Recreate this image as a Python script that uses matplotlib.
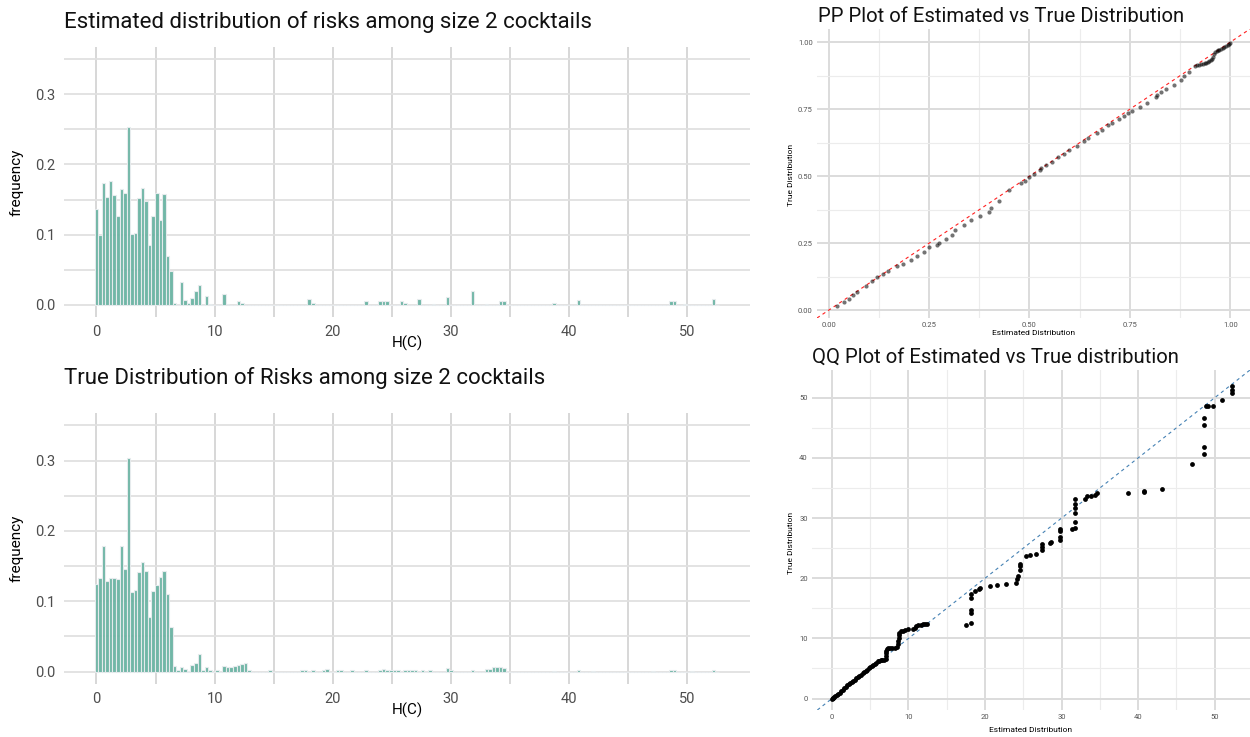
import matplotlib
matplotlib.use("Agg")
import matplotlib.pyplot as plt
import numpy as np

plt.rcParams["font.family"] = ["Roboto", "DejaVu Sans"]

W, H = 1250, 737
BINWIDTH = 0.3
N_BINS = 176

# histogram bins: index k -> centre k * BINWIDTH
est_bins = [0, 1, 2, 3, 4, 5, 6, 7, 8, 9, 10, 11, 12, 13, 14, 15, 16, 17, 18, 19, 20, 21, 22,
            24, 25, 26, 27, 28, 29, 31, 32, 36, 37, 40, 41,
            60, 61, 76, 80, 81, 82, 86, 87, 91, 95, 99, 106, 110, 114, 115, 129, 136, 162, 163, 166, 174]
est_freq = [0.137, 0.099, 0.174, 0.154, 0.176, 0.156, 0.126, 0.165, 0.159, 0.253, 0.101, 0.102,
            0.152, 0.166, 0.148, 0.085, 0.127, 0.160, 0.121, 0.158, 0.069, 0.048, 0.002,
            0.032, 0.0065, 0.002, 0.010, 0.019, 0.028, 0.012, 0.001, 0.0146, 0.001, 0.006, 0.003,
            0.0075, 0.003, 0.0047, 0.006, 0.006, 0.006, 0.005, 0.002, 0.0085, 0.001, 0.011, 0.019,
            0.001, 0.005, 0.005, 0.003, 0.0066, 0.005, 0.005, 0.001, 0.0085]

true_bins = [0, 1, 2, 3, 4, 5, 6, 7, 8, 9, 10, 11, 12, 13, 14, 15, 16, 17, 18, 19, 20, 21, 22,
             23, 24, 25, 26, 27, 28, 29, 30, 31, 32, 34, 36, 37, 38, 39, 40, 41, 42, 43,
             49, 58, 59, 61, 64, 65, 68, 69, 72, 76, 80, 81, 82, 83, 84, 85, 87, 88, 89, 90, 92, 94,
             99, 100, 106, 110, 111, 112, 113, 114, 115, 129, 136, 140, 157, 162, 163, 168, 174]
true_freq = [0.124, 0.133, 0.178, 0.129, 0.133, 0.133, 0.131, 0.179, 0.146, 0.303, 0.113, 0.116,
             0.141, 0.156, 0.143, 0.077, 0.115, 0.123, 0.134, 0.143, 0.110, 0.063, 0.008,
             0.003, 0.007, 0.004, 0.001, 0.010, 0.0125, 0.0246, 0.002, 0.007, 0.002, 0.002,
             0.008, 0.006, 0.006, 0.008, 0.010, 0.011, 0.013, 0.002,
             0.002, 0.002, 0.002, 0.003, 0.002, 0.004, 0.002, 0.002, 0.002, 0.002, 0.003, 0.004,
             0.003, 0.003, 0.002, 0.002, 0.002, 0.003, 0.002, 0.002, 0.002, 0.002,
             0.005, 0.002, 0.002, 0.004, 0.004, 0.006, 0.007, 0.007, 0.005, 0.001, 0.002, 0.001,
             0.001, 0.002, 0.002, 0.001, 0.003]

# PP plot
pp_est = [0.022, 0.039, 0.050, 0.060, 0.070, 0.093, 0.107, 0.121, 0.136, 0.148, 0.169, 0.186,
          0.204, 0.221, 0.237, 0.251, 0.269, 0.275, 0.291, 0.306, 0.314, 0.338, 0.355, 0.378,
          0.398, 0.403, 0.423, 0.450, 0.479, 0.488, 0.498, 0.512, 0.526, 0.529, 0.541, 0.557,
          0.572, 0.587, 0.599, 0.618, 0.636, 0.646, 0.667, 0.681, 0.696, 0.706, 0.723, 0.736,
          0.746, 0.756, 0.776, 0.793, 0.816, 0.818, 0.828, 0.839, 0.861, 0.878, 0.884, 0.898,
          0.913, 0.916, 0.923, 0.927, 0.931, 0.936, 0.940, 0.944, 0.948, 0.951, 0.955, 0.957,
          0.960, 0.963, 0.966, 0.969, 0.973, 0.977, 0.981, 0.985, 0.989, 0.993, 0.997, 1.000]
pp_true = [0.015, 0.030, 0.043, 0.058, 0.068, 0.089, 0.108, 0.124, 0.135, 0.145, 0.164, 0.173,
           0.188, 0.203, 0.217, 0.234, 0.244, 0.250, 0.265, 0.281, 0.300, 0.318, 0.337, 0.352,
           0.368, 0.380, 0.408, 0.449, 0.473, 0.483, 0.496, 0.508, 0.523, 0.529, 0.541, 0.554,
           0.570, 0.584, 0.597, 0.612, 0.632, 0.643, 0.662, 0.674, 0.690, 0.699, 0.714, 0.724,
           0.736, 0.743, 0.758, 0.772, 0.796, 0.802, 0.813, 0.825, 0.841, 0.857, 0.875, 0.890,
           0.911, 0.913, 0.916, 0.918, 0.919, 0.921, 0.924, 0.927, 0.931, 0.933, 0.936, 0.945,
           0.957, 0.963, 0.966, 0.969, 0.972, 0.975, 0.978, 0.981, 0.985, 0.990, 0.994, 0.998]

# QQ plot
qq_est = [0.0, 0.1, 0.2, 0.3, 0.45, 0.6, 0.8, 1.0, 1.2, 1.4, 1.6, 1.8, 2.0, 2.2, 2.4, 2.6, 2.8,
          3.0, 3.2, 3.4, 3.6, 3.8, 4.0, 4.2, 4.4, 4.6, 4.8, 5.0, 5.2, 5.4, 5.6, 5.8, 6.0, 6.2,
          6.4, 6.6, 6.8, 7.0, 7.05, 7.1, 7.1, 7.15, 7.3, 7.6, 7.9, 8.2, 8.5, 8.6, 8.65, 8.7, 8.7,
          8.75, 9.0, 9.3, 9.6, 9.9, 10.6, 10.8, 11.0, 11.3, 11.6, 11.9, 12.2, 12.4,
          17.5, 18.1, 18.1, 18.2, 18.2, 18.2, 18.75, 19.2, 19.4, 20.7, 21.6, 22.7,
          24.0, 24.2, 24.3, 24.5, 24.6, 24.6, 25.3, 25.9, 26.6, 27.4, 27.4, 27.4, 28.5, 28.6,
          29.8, 29.8, 29.8, 29.8, 31.3, 31.7, 31.7, 31.7, 31.7, 31.7, 31.7,
          33.0, 33.3, 33.9, 34.4, 34.6, 38.7, 40.8, 40.8, 43.1, 47.0,
          48.6, 48.6, 48.6, 48.6, 48.9, 49.1, 49.8, 50.9, 52.2, 52.2, 52.2]
qq_true = [0.0, 0.05, 0.15, 0.25, 0.4, 0.55, 0.8, 1.0, 1.25, 1.5, 1.75, 2.0, 2.2, 2.4, 2.6, 2.8,
           2.95, 3.15, 3.35, 3.55, 3.75, 3.95, 4.2, 4.4, 4.6, 4.8, 5.0, 5.2, 5.4, 5.6, 5.75, 5.95,
           6.2, 6.3, 6.35, 6.4, 6.45, 6.6, 7.0, 7.5, 7.9, 8.2, 8.35, 8.4, 8.4, 8.4, 8.5, 9.0, 9.5,
           10.0, 10.5, 10.9, 11.2, 11.3, 11.4, 11.5, 11.5, 11.7, 12.0, 12.2, 12.3, 12.35, 12.4, 12.45,
           12.3, 12.6, 14.3, 14.7, 16.7, 17.3, 17.8, 18.2, 18.4, 18.65, 18.9, 19.0,
           19.2, 19.9, 20.4, 21.4, 22.0, 22.4, 23.7, 23.8, 24.1, 24.7, 25.2, 25.7, 25.8, 26.0,
           26.3, 26.9, 27.8, 28.1, 28.1, 28.3, 29.4, 30.8, 31.6, 32.4, 33.1,
           33.1, 33.7, 33.7, 33.8, 34.1, 34.2, 34.4, 34.5, 34.9, 39.0,
           40.6, 41.8, 45.4, 46.7, 48.6, 48.7, 48.7, 49.6, 50.7, 51.3, 51.9]

hist_xticks = [0, 10, 20, 30, 40, 50]
hist_yticks = [0.0, 0.1, 0.2, 0.3]
pp_ticks = [0.0, 0.25, 0.5, 0.75, 1.0]
qq_ticks = [0, 10, 20, 30, 40, 50]


def px_axes(fig, left, top, right, bottom):
    return fig.add_axes([left / W, 1 - bottom / H, (right - left) / W, (bottom - top) / H])


def clean(ax):
    for spine in ax.spines.values():
        spine.set_visible(False)
    ax.set_axisbelow(True)


def draw_hist(ax, bins, freq):
    heights = np.zeros(N_BINS)
    heights[bins] = freq
    centres = np.arange(N_BINS) * BINWIDTH
    ax.bar(centres, heights, width=BINWIDTH, color="#69b3a2", alpha=0.95,
           edgecolor="#e9ecef", linewidth=0.8)
    ax.set_xlim(-2.75, 55.3)
    ax.set_ylim(-0.0175, 0.3675)
    ax.set_xticks(hist_xticks)
    ax.set_xticks([5, 15, 25, 35, 45], minor=True)
    ax.set_yticks(hist_yticks)
    ax.set_yticks([0.05, 0.15, 0.25, 0.35], minor=True)
    ax.set_yticklabels(["0.0", "0.1", "0.2", "0.3"])
    ax.grid(True, which="both", axis="x", color="#d4d4d4", linewidth=1.3)
    ax.grid(True, which="both", axis="y", color="#e0e0e0", linewidth=1.3)
    ax.tick_params(which="both", length=0, labelsize=10.5, labelcolor="#4d4d4d", pad=6)
    clean(ax)


fig = plt.figure(figsize=(W / 100, H / 100), dpi=100)

ax1 = px_axes(fig, 64, 47, 750, 317)
draw_hist(ax1, est_bins, est_freq)
ax2 = px_axes(fig, 64, 413, 750, 684)
draw_hist(ax2, true_bins, true_freq)

fig.text(64 / W, 1 - 28 / H, "Estimated distribution of risks among size 2 cocktails",
         fontsize=16, va="baseline", ha="left", color="#111111")
fig.text(64 / W, 1 - 384 / H, "True Distribution of Risks among size 2 cocktails",
         fontsize=16, va="baseline", ha="left", color="#111111")
for yc in (182, 548):
    fig.text(17 / W, 1 - yc / H, "frequency", rotation=90, fontsize=11, va="center", ha="center")
for yc in (343, 710):
    fig.text(407 / W, 1 - yc / H, "H(C)", fontsize=11, va="center", ha="center")

# PP plot
ax3 = px_axes(fig, 817, 29, 1250, 318)
ax3.axline((0, 0), slope=1, color="#ff2020", linestyle=(0, (3, 3)), linewidth=0.8, zorder=2)
ax3.scatter(pp_est, pp_true, s=9, color="black", alpha=0.55, linewidths=0, zorder=3)
ax3.set_xlim(-0.029, 1.049)
ax3.set_ylim(-0.029, 1.049)
ax3.set_xticks(pp_ticks)
ax3.set_yticks(pp_ticks)
ax3.set_xticklabels(["0.00", "0.25", "0.50", "0.75", "1.00"])
ax3.set_yticklabels(["0.00", "0.25", "0.50", "0.75", "1.00"])
ax3.set_xticks([0.125, 0.375, 0.625, 0.875], minor=True)
ax3.set_yticks([0.125, 0.375, 0.625, 0.875], minor=True)
ax3.grid(True, which="major", color="#dcdcdc", linewidth=1.4)
ax3.grid(True, which="minor", color="#ececec", linewidth=0.8)
ax3.tick_params(which="both", length=0, labelsize=5.5, labelcolor="#555555", pad=3)
clean(ax3)
fig.text(818 / W, 1 - 22 / H, "PP Plot of Estimated vs True Distribution",
         fontsize=14.6, va="baseline", ha="left", color="#111111")
fig.text(1034 / W, 1 - 333 / H, "Estimated Distribution", fontsize=6, va="center", ha="center")
fig.text(791 / W, 1 - 175 / H, "True Distribution", fontsize=6, rotation=90, va="center", ha="center")

# QQ plot
ax4 = px_axes(fig, 812, 370, 1250, 710)
ax4.axline((0, 0), slope=1, color="#4682b4", linestyle=(0, (3, 3)), linewidth=0.8, zorder=2)
ax4.scatter(qq_est, qq_true, s=12, color="black", linewidths=0, zorder=3)
ax4.set_xlim(-2.6, 54.6)
ax4.set_ylim(-1.9, 54.6)
ax4.set_xticks(qq_ticks)
ax4.set_yticks(qq_ticks)
ax4.set_xticks([5, 15, 25, 35, 45], minor=True)
ax4.set_yticks([5, 15, 25, 35, 45], minor=True)
ax4.grid(True, which="major", color="#dcdcdc", linewidth=1.4)
ax4.grid(True, which="minor", color="#ececec", linewidth=0.8)
ax4.tick_params(which="both", length=0, labelsize=5.5, labelcolor="#555555", pad=3)
clean(ax4)
fig.text(812 / W, 1 - 363 / H, "QQ Plot of Estimated vs True distribution",
         fontsize=14.6, va="baseline", ha="left", color="#111111")
fig.text(1031 / W, 1 - 730 / H, "Estimated Distribution", fontsize=6, va="center", ha="center")
fig.text(791 / W, 1 - 543 / H, "True Distribution", fontsize=6, rotation=90, va="center", ha="center")

fig.savefig("out.png", dpi=100)
